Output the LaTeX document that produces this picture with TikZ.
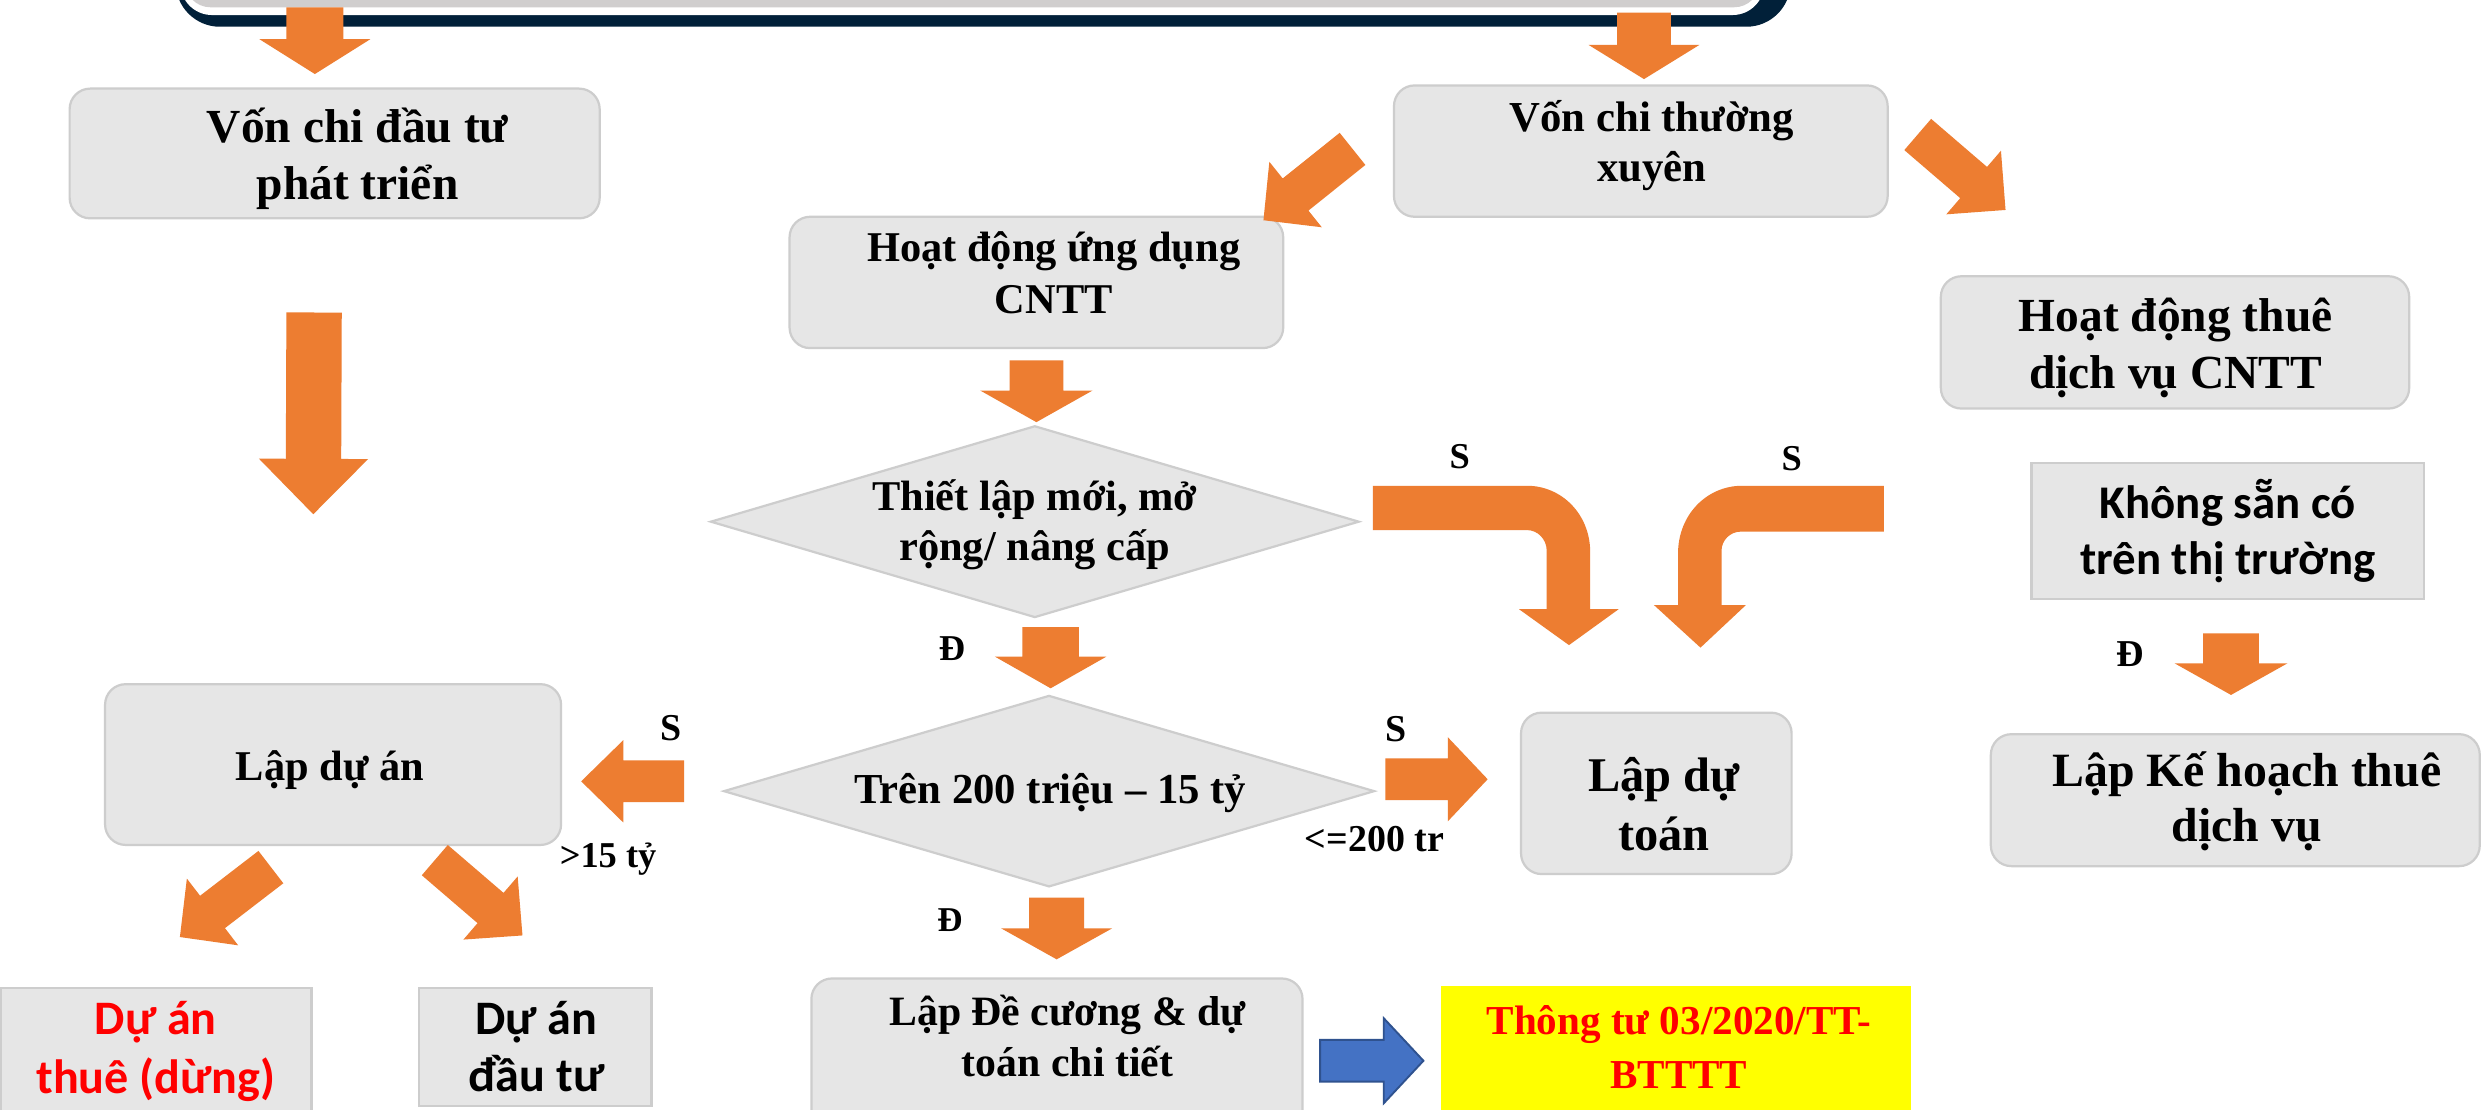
\documentclass[tikz,border=0pt]{standalone}
\usepackage{fontspec}
\setmainfont{Liberation Serif}
\newfontfamily\calfont{Carlito}
\usetikzlibrary{calc,shapes.geometric}
\definecolor{org}{HTML}{ED7D31}
\definecolor{boxfill}{HTML}{E6E6E6}
\definecolor{boxline}{HTML}{CDCDCD}
\definecolor{navy}{HTML}{012039}
\definecolor{topgray}{HTML}{D0CECE}
\definecolor{blu}{HTML}{4472C4}
\definecolor{bluline}{HTML}{2F528F}
\definecolor{redtxt}{HTML}{FF0000}
\definecolor{yel}{HTML}{FFFF00}
\newcommand\sr{\rule[-0.3em]{0pt}{1.3em}}
\newcommand\fz[2]{\fontsize{#1}{#2}\selectfont\lineskiplimit=-\maxdimen\relax}
% #1 style, #2 start, #3 tip, #4 shaft half width, #5 head half width, #6 head length
\newcommand\fatarrow[6][org]{%
  \coordinate (fahead) at ($(#3)!#6!(#2)$);
  \fill[#1] ($(#2)!#4!90:(#3)$) -- ($(fahead)!#4!-90:(#2)$) -- ($(fahead)!#5!-90:(#2)$) -- (#3)
    -- ($(fahead)!#5!90:(#2)$) -- ($(fahead)!#4!90:(#2)$) -- ($(#2)!#4!-90:(#3)$) -- cycle;}
\begin{document}
\begin{tikzpicture}[x=0.5pt,y=-0.5pt,
  rbox/.style={draw=boxline, fill=boxfill, line width=0.7pt, rounded corners=6.5pt, inner sep=0pt},
  sbox/.style={draw=boxline, fill=boxfill, line width=0.7pt, inner sep=0pt},
  dia/.style={diamond, draw=boxline, fill=boxfill, line width=0.7pt, inner sep=0pt, aspect=3.4},
  txt/.style={inner sep=0pt, align=center},
  lbl/.style={inner sep=0pt, anchor=base}]
\path[use as bounding box] (0,0) rectangle (1568,701);
\clip (0,0) rectangle (1568,701);
\fill[white] (0,0) rectangle (1568,701);

% top frame (cut off)
\fill[navy, rounded corners=14pt] (111,-80) rectangle (1131.7,16.9);
\fill[white, rounded corners=10pt] (114,-80) rectangle (1115,9.5);
\fill[topgray, rounded corners=8pt] (117,-80) rectangle (1112,4.6);

% boxes
\node[rbox, minimum width=167.5pt, minimum height=41pt] (vcdt) at (211.5,97) {};
\node[rbox, minimum width=156pt, minimum height=41.5pt] (vctx) at (1037,95.5) {};
\node[rbox, minimum width=156pt, minimum height=41.5pt] (hdud) at (655,178.5) {};
\node[rbox, minimum width=148pt, minimum height=41.8pt] (hdtd) at (1374.6,216.4) {};
\node[rbox, minimum width=144.1pt, minimum height=50.8pt] (lda) at (210.5,483.2) {};
\node[rbox, minimum width=85.5pt, minimum height=51pt] (ldt) at (1046.8,501.4) {};
\node[sbox, minimum width=124.1pt, minimum height=43.2pt] (ksc) at (1408,335.6) {};
\node[rbox, minimum width=154.5pt, minimum height=41.7pt] (lkh) at (1412.7,505.7) {};
\node[rbox, minimum width=155.2pt, minimum height=50.8pt] (ldc) at (668,669.2) {};
\node[sbox, minimum width=98.1pt, minimum height=47.7pt] (dat) at (98.7,672.3) {};
\node[sbox, minimum width=73.5pt, minimum height=37.2pt] (dad) at (338.2,661.8) {};
\node[fill=yel, inner sep=0pt, minimum width=148.5pt, minimum height=48.5pt] (tt) at (1059.3,671.5) {};

% diamonds
\node[dia, minimum width=205pt, minimum height=60.6pt] (d1) at (654,329.7) {};
\node[dia, minimum width=205.7pt, minimum height=60.5pt] (d2) at (663,500) {};

% arrow end points
\coordinate (a1s) at (199,4.6);      \coordinate (a1t) at (199,46.8);
\coordinate (a2s) at (1039,8);       \coordinate (a2t) at (1039,50);
\coordinate (als) at (854.8,94.1);   \coordinate (alt) at (798.5,139.2);
\coordinate (ars) at (1212,85);      \coordinate (art) at (1267.5,132.7);
\coordinate (abs) at (198.5,197.5);  \coordinate (abt) at (198,325);
\coordinate (a3s) at (655,227.8);    \coordinate (a3t) at (655,266.8);
\coordinate (a4s) at (664,396.4);    \coordinate (a4t) at (664,435);
\coordinate (a5s) at (432.4,493.8);  \coordinate (a5t) at (367.3,493.8);
\coordinate (a6s) at (875.6,492.5);  \coordinate (a6t) at (940.2,492.5);
\coordinate (a7s) at (171.2,548);    \coordinate (a7t) at (113.7,592.2);
\coordinate (a8s) at (274.8,543.6);  \coordinate (a8t) at (330.2,591.2);
\coordinate (a9s) at (667.8,567.3);  \coordinate (a9t) at (667.8,606.3);
\coordinate (a10s) at (1410,400.3);  \coordinate (a10t) at (1410,439.2);
\coordinate (bls) at (834.3,670.4);  \coordinate (blt) at (899.6,670.4);

\fatarrow{a1s}{a1t}{9pt}{17.5pt}{11pt}
\fatarrow{a2s}{a2t}{8.5pt}{17.5pt}{10.8pt}
\fatarrow{als}{alt}{6.5pt}{13.25pt}{13pt}
\fatarrow{ars}{art}{6.5pt}{13.25pt}{13.3pt}
\fatarrow{abs}{abt}{8.75pt}{17.25pt}{17.5pt}
\fatarrow{a3s}{a3t}{8.5pt}{17.75pt}{10pt}
\fatarrow{a4s}{a4t}{8.9pt}{17.6pt}{10pt}
\fatarrow{a5s}{a5t}{6.6pt}{13pt}{13.3pt}
\fatarrow{a6s}{a6t}{6.6pt}{13.3pt}{12.6pt}
\fatarrow{a7s}{a7t}{6.45pt}{13.3pt}{13pt}
\fatarrow{a8s}{a8t}{6.3pt}{13.15pt}{13.3pt}
\fatarrow{a9s}{a9t}{8.7pt}{17.55pt}{9.8pt}
\fatarrow{a10s}{a10t}{8.8pt}{17.85pt}{10pt}
\fatarrow[fill=blu, draw=bluline, line width=0.6pt]{bls}{blt}{6.6pt}{13.45pt}{12.55pt}

% bent arrows into "Lap du toan"
\coordinate (b1s) at (867.7,321); \coordinate (b1t) at (991.6,407.7);
\coordinate (b2s) at (1190.6,321.5); \coordinate (b2t) at (1074.7,409.3);
\fill[org] (867.7,307) -- (965,307) .. controls (987,307) and (1005,325) .. (1005,349) -- (1005,385)
  -- (1023,385) -- (b1t) -- (960,385) -- (977.5,385) -- (977.5,348)
  .. controls (977.5,341) and (972,335) .. (965,335) -- (867.7,335) -- cycle;
\fill[org] (1190.6,307) -- (1101,307) .. controls (1079,307) and (1060.5,325) .. (1060.5,350) -- (1060.5,382.4)
  -- (1045.3,382.4) -- (b2t) -- (1103.4,382.4) -- (1088,382.4) -- (1088,348)
  .. controls (1088,341.5) and (1093.5,336) .. (1100,336) -- (1190.6,336) -- cycle;

% texts
\node[txt, font=\fz{15}{18}\bfseries] (vcdtT) at (226,97.5) {\sr Vốn chi đầu tư\\\sr phát triển};
\node[txt, font=\fz{13.5}{16}\bfseries] (vctxT) at (1044,89.5) {\sr Vốn chi thường\\\sr xuyên};
\node[txt, font=\fz{13.4}{16.2}\bfseries] (hdudT) at (666,172.4) {\sr Hoạt động ứng dụng\\\sr CNTT};
\node[txt, font=\fz{15}{18}\bfseries] (hdtdT) at (1375,217.1) {\sr Hoạt động thuê\\\sr dịch vụ CNTT};
\node[txt, font=\fz{13.4}{15.85}\bfseries] (d1T) at (654,329.2) {\sr Thiết lập mới, mở\\\sr rộng/ nâng cấp};
\node[txt, font=\fz{13.5}{15}\bfseries] (d2T) at (663.8,498.3) {\sr Trên 200 triệu – 15 tỷ};
\node[txt, font=\fz{13.4}{16}\bfseries] (ldaT) at (208.5,484.1) {\sr Lập dự án};
\node[txt, font=\fz{15.3}{18.5}\bfseries] (ldtT) at (1051.5,508.1) {\sr Lập dự\\\sr toán};
\node[txt, font=\calfont\fz{14.8}{17.9}\bfseries] (kscT) at (1408,335.1) {\sr Không sẵn có\\\sr trên thị trường};
\node[txt, font=\fz{15.1}{17.4}\bfseries] (lkhT) at (1420,504) {\sr Lập Kế hoạch thuê\\\sr dịch vụ};
\node[txt, font=\fz{13.2}{16.3}\bfseries] (ldcT) at (674.7,654.9) {\sr Lập Đề cương \& dự\\\sr toán chi tiết};
\node[txt, text=redtxt, font=\fz{13}{16.9}\bfseries] (ttT) at (1061,661.8) {\sr Thông tư 03/2020/TT-\\\sr BTTTT};
\node[txt, text=redtxt, font=\calfont\fz{15.2}{18.5}\bfseries] (datT) at (98.5,661.9) {\sr Dự án\\\sr thuê (dừng)};
\node[txt, font=\calfont\fz{15.2}{18}\bfseries] (dadT) at (339,661.4) {\sr Dự án\\\sr đầu tư};

% labels
\node[lbl, font=\fontsize{11.5}{13}\selectfont\bfseries] (s1) at (922.5,296.3) {S};
\node[lbl, font=\fontsize{11.5}{13}\selectfont\bfseries] (s2) at (1132.4,297.4) {S};
\node[lbl, font=\fontsize{12}{14}\selectfont\bfseries] (s3) at (424,468.3) {S};
\node[lbl, font=\fontsize{12}{14}\selectfont\bfseries] (s4) at (882,468.7) {S};
\node[lbl, font=\fontsize{11.5}{13}\selectfont\bfseries] (g15) at (384.3,548.4) {>15 tỷ};
\node[lbl, font=\fontsize{12}{14}\selectfont\bfseries] (l200) at (868.7,538.3) {<=200 tr};
\node[lbl, font=\fontsize{11.5}{13}\selectfont\bfseries] (dd1) at (601.7,417.6) {Đ};
\node[lbl, font=\fontsize{11}{13}\selectfont\bfseries] (dd2) at (600.4,588.8) {Đ};
\node[lbl, font=\fontsize{12}{14}\selectfont\bfseries] (dd3) at (1346.4,421.3) {Đ};
\end{tikzpicture}
\end{document}
